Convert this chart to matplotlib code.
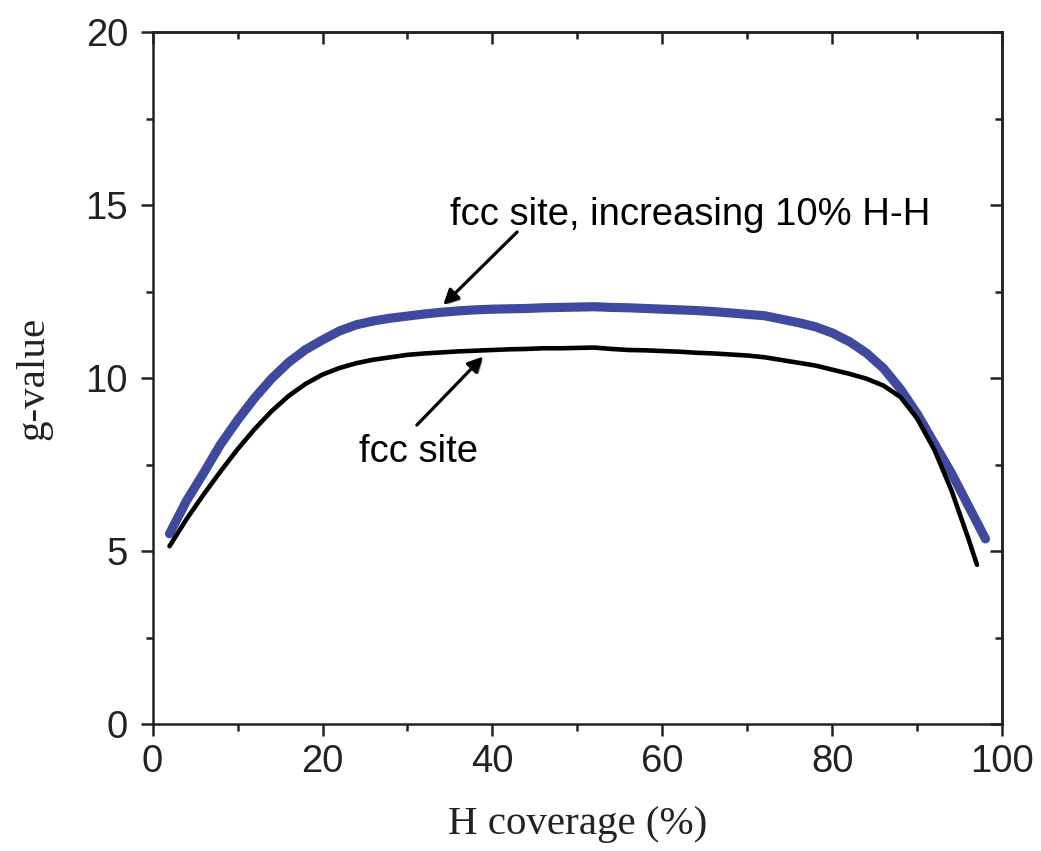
import matplotlib
matplotlib.use("Agg")
import matplotlib.pyplot as plt
import matplotlib.patheffects as pe
from matplotlib.ticker import MultipleLocator

# H coverage (%) and g-values for the two site models
cov_hh = [2, 4, 6, 8, 10, 12, 14, 16, 18, 20, 22, 24, 26, 28, 30, 32, 34, 36, 38,
          40, 42, 44, 46, 48, 50, 52, 54, 56, 58, 60, 62, 64, 66, 68, 70, 72, 74,
          76, 78, 80, 82, 84, 86, 88, 90, 92, 94, 96, 98]
g_hh = [5.50, 6.45, 7.25, 8.08, 8.78, 9.42, 9.98, 10.45, 10.82, 11.10, 11.36,
        11.54, 11.65, 11.73, 11.79, 11.85, 11.90, 11.94, 11.97, 11.99, 12.00,
        12.01, 12.03, 12.04, 12.05, 12.06, 12.04, 12.03, 12.01, 11.99, 11.97,
        11.95, 11.92, 11.88, 11.84, 11.80, 11.70, 11.60, 11.48, 11.30, 11.05,
        10.72, 10.28, 9.68, 8.95, 8.10, 7.25, 6.30, 5.35]

cov_fcc = [2, 4, 6, 8, 10, 12, 14, 16, 18, 20, 22, 24, 26, 28, 30, 32, 34, 36, 38,
           40, 42, 44, 46, 48, 50, 52, 54, 56, 58, 60, 62, 64, 66, 68, 70, 72, 74,
           76, 78, 80, 82, 84, 86, 88, 90, 92, 94, 96, 97]
g_fcc = [5.14, 5.92, 6.63, 7.30, 7.94, 8.52, 9.04, 9.48, 9.83, 10.10, 10.29,
         10.43, 10.53, 10.60, 10.67, 10.71, 10.74, 10.77, 10.79, 10.81, 10.83,
         10.84, 10.86, 10.86, 10.87, 10.88, 10.84, 10.81, 10.80, 10.78, 10.76,
         10.73, 10.71, 10.68, 10.65, 10.60, 10.52, 10.44, 10.36, 10.24, 10.12,
         9.98, 9.78, 9.45, 8.82, 7.92, 6.75, 5.35, 4.60]

label_hh = "fcc site, increasing 10% H-H"
label_fcc = "fcc site"

ink = "#222222"
blue = "#3f4a9e"

fig = plt.figure(figsize=(10.41, 8.51), dpi=100)
ax = fig.add_axes([0.1465, 0.1492, 0.8165, 0.8132])

ax.plot(cov_hh, g_hh, color=blue, lw=6.6, solid_capstyle="round",
        solid_joinstyle="round", zorder=3)
ax.plot(cov_fcc, g_fcc, color="black", lw=3.3, solid_capstyle="round",
        solid_joinstyle="round", zorder=4)

ax.set_xlim(0, 100)
ax.set_ylim(0, 20)
ax.xaxis.set_major_locator(MultipleLocator(20))
ax.xaxis.set_minor_locator(MultipleLocator(10))
ax.yaxis.set_major_locator(MultipleLocator(5))
ax.yaxis.set_minor_locator(MultipleLocator(2.5))

for s in ax.spines.values():
    s.set_linewidth(1.8)
    s.set_color(ink)

sans = ["Liberation Sans", "DejaVu Sans"]
serif = ["Liberation Serif", "DejaVu Serif"]

ax.tick_params(axis="both", which="major", length=8.6, width=1.8, color=ink,
               labelsize=27.5, labelcolor=ink)
ax.tick_params(axis="both", which="minor", length=4.7, width=1.8, color=ink)
ax.tick_params(axis="x", which="both", direction="out", top=False, pad=6)
ax.tick_params(axis="y", which="both", direction="out", right=False, pad=9)
for lab in ax.get_xticklabels() + ax.get_yticklabels():
    lab.set_family(sans)

# mirrored axes on top/right with inward ticks and no labels
axt = ax.secondary_xaxis("top")
axt.xaxis.set_major_locator(MultipleLocator(20))
axt.xaxis.set_minor_locator(MultipleLocator(10))
axt.tick_params(which="major", direction="in", length=8.6, width=1.8, color=ink,
                labeltop=False)
axt.tick_params(which="minor", direction="in", length=4.7, width=1.8, color=ink)
axt.spines["top"].set_linewidth(1.8)
axt.spines["top"].set_color(ink)
axr = ax.secondary_yaxis("right")
axr.yaxis.set_major_locator(MultipleLocator(5))
axr.yaxis.set_minor_locator(MultipleLocator(2.5))
axr.tick_params(which="major", direction="in", length=8.6, width=1.8, color=ink,
                labelright=False)
axr.tick_params(which="minor", direction="in", length=4.7, width=1.8, color=ink)
axr.spines["right"].set_linewidth(1.8)
axr.spines["right"].set_color(ink)

ax.set_xlabel("H coverage (%)", family=serif, fontsize=29.5, color=ink)
ax.set_ylabel("g-value", family=serif, fontsize=29.5, color=ink)
ax.xaxis.set_label_coords(0.5, -0.118)
ax.yaxis.set_label_coords(-0.118, 0.5)

shadow = [pe.SimplePatchShadow(offset=(1.5, -1.5), shadow_rgbFace="#999999",
                               alpha=0.8), pe.Normal()]
arrow_kw = dict(arrowstyle="-|>,head_length=0.9,head_width=0.45", color="black",
                lw=2.3, shrinkA=0, shrinkB=0)

ax.annotate("", xy=(34.2, 12.11), xytext=(42.9, 14.22),
            arrowprops=dict(arrow_kw, path_effects=shadow), zorder=5)
ax.text(63.3, 14.7, label_hh, family=sans, fontsize=27.5, color="black",
        ha="center", va="center")

ax.annotate("", xy=(38.9, 10.62), xytext=(31.1, 8.64),
            arrowprops=dict(arrow_kw, path_effects=shadow), zorder=5)
ax.text(31.3, 7.86, label_fcc, family=sans, fontsize=27.5, color="black",
        ha="center", va="center")

fig.savefig("out.png", dpi=100)
